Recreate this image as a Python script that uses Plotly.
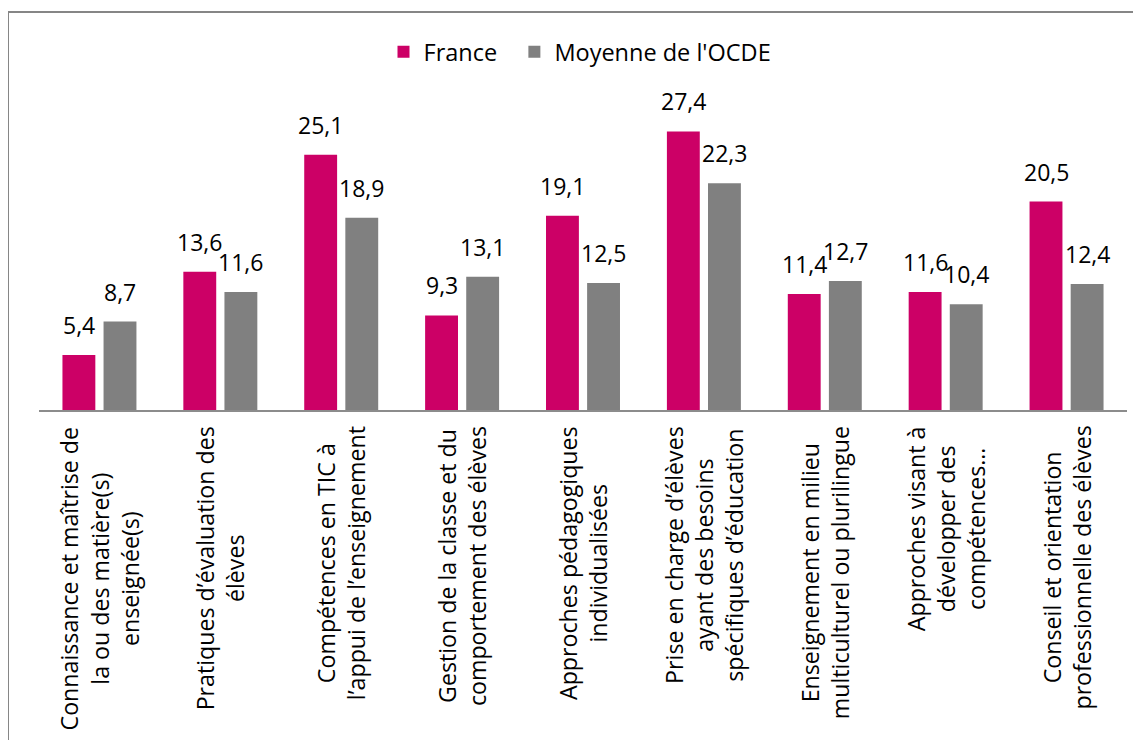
import plotly.graph_objects as go

categories = [
    "Connaissance et maîtrise de<br>la ou des matière(s)<br>enseignée(s)",
    "Pratiques d’évaluation des<br>élèves",
    "Compétences en TIC à<br>l’appui de l’enseignement",
    "Gestion de la classe et du<br>comportement des élèves",
    "Approches pédagogiques<br>individualisées",
    "Prise en charge d’élèves<br>ayant des besoins<br>spécifiques d’éducation",
    "Enseignement en milieu<br>multiculturel ou plurilingue",
    "Approches visant à<br>développer des<br>compétences…",
    "Conseil et orientation<br>professionnelle des élèves",
]
france = [5.4, 13.6, 25.1, 9.3, 19.1, 27.4, 11.4, 11.6, 20.5]
ocde = [8.7, 11.6, 18.9, 13.1, 12.5, 22.3, 12.7, 10.4, 12.4]
series_names = ["France\u00a0\u00a0", "Moyenne de l'OCDE"]
colors = ["#CC0066", "#808080"]

# page body has an 8px margin; compensate
OFF = 8
W, H = 1141 - OFF, 740 - OFF
ML, MR, MT, MB = 39 - OFF, 14, 105 - OFF, 330
FONT = "Open Sans"
FS_VAL = 23
FS_LEG = 23.5
FS_CAT = 23.2

fig = go.Figure()
for name, vals, col in zip(series_names, [france, ocde], colors):
    fig.add_trace(go.Bar(x=categories, y=vals, name=name,
                         marker=dict(color=col, line=dict(width=0))))

plot_w = W - ML - MR
plot_h = H - MT - MB
cat_w = plot_w / len(categories)
bargap = 0.32
slot = cat_w * (1 - bargap) / 2

annotations = []
for i, c in enumerate(categories):
    for vals, sign in ((france, -1), (ocde, 1)):
        annotations.append(dict(
            x=c, y=vals[i], xref="x", yref="y",
            text=f"{vals[i]:.1f}".replace(".", ","),
            showarrow=False, xanchor="center", yanchor="bottom",
            xshift=sign * slot / 2, yshift=12,
            font=dict(family=FONT, size=FS_VAL, color="#000000")))
    annotations.append(dict(
        x=c, y=0, xref="x", yref="y", text=c, textangle=-90,
        showarrow=False, xanchor="center", yanchor="top", yshift=-14,
        align="center", font=dict(family=FONT, size=FS_CAT, color="#000000")))

# convert page pixel coordinates to paper coordinates
def px_to_paper_x(px):
    return (px - OFF - ML) / plot_w

def px_to_paper_y(py):
    return (OFF + H - MB - py) / plot_h

fig.add_shape(type="rect", xref="paper", yref="paper",
              x0=px_to_paper_x(8), x1=px_to_paper_x(1160),
              y0=px_to_paper_y(760), y1=px_to_paper_y(12),
              line=dict(color="#868686", width=2), layer="below")

fig.update_layout(
    width=W, height=H,
    margin=dict(l=ML, r=MR, t=MT, b=MB),
    paper_bgcolor="white", plot_bgcolor="white",
    barmode="group", bargap=bargap, bargroupgap=0.2,
    font=dict(family=FONT, size=FS_VAL, color="#000000"),
    showlegend=True,
    legend=dict(orientation="h", x=px_to_paper_x(580), xanchor="center",
                y=px_to_paper_y(52), yanchor="middle",
                font=dict(family=FONT, size=FS_LEG), itemwidth=30,
                traceorder="normal"),
    xaxis=dict(showticklabels=False, showline=True, linecolor="#8c8c8c",
               linewidth=2, ticks="", showgrid=False, zeroline=False),
    yaxis=dict(range=[0, 30], visible=False, showgrid=False, zeroline=False),
    annotations=annotations,
)

fig.write_html("out.html")
